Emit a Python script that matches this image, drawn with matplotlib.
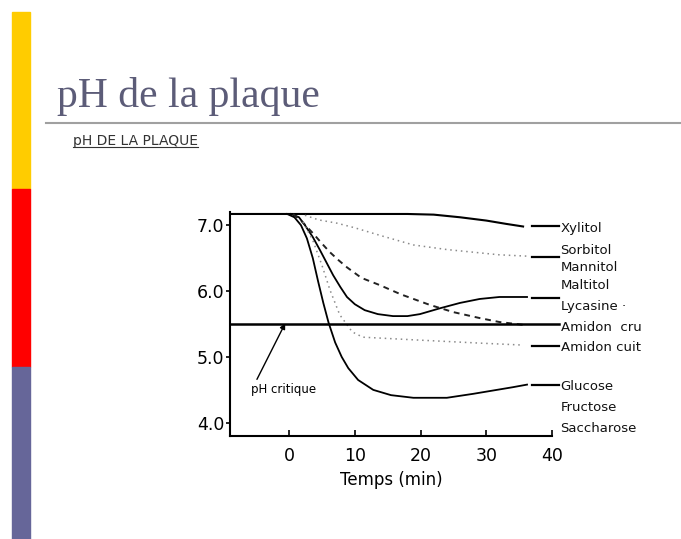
import matplotlib
matplotlib.use("Agg")
import matplotlib.pyplot as plt
from matplotlib.patches import Rectangle
from matplotlib.lines import Line2D

# courbes (temps en min, pH)
xylitol_t = [-9, 0, 10, 18, 22, 26, 30, 33, 35.6]
xylitol_ph = [7.17, 7.17, 7.17, 7.17, 7.16, 7.12, 7.07, 7.02, 6.98]

sorbitol_t = [2.4, 4.5, 7.3, 10, 14, 18.9, 24, 29, 32, 36.2]
sorbitol_ph = [7.15, 7.08, 7.03, 6.96, 6.84, 6.70, 6.63, 6.58, 6.55, 6.53]

lycasine_t = [0.3, 1.5, 2.4, 3.6, 4.7, 5.7, 6.7, 7.8, 8.8, 10, 11.5, 13.5,
              15.8, 18, 19.9, 23, 26, 29, 32, 36.2]
lycasine_ph = [7.17, 7.12, 7.0, 6.82, 6.62, 6.43, 6.24, 6.06, 5.91, 5.8, 5.71,
               5.65, 5.62, 5.62, 5.65, 5.74, 5.82, 5.88, 5.91, 5.91]

cru_t = [0.6, 2, 3.6, 5, 6.2, 7.5, 8.8, 11, 13.8, 17, 21.4, 25, 29, 32, 36.2]
cru_ph = [7.17, 7.05, 6.88, 6.72, 6.59, 6.47, 6.36, 6.2, 6.09, 5.95, 5.79,
          5.68, 5.59, 5.53, 5.48]

cuit_t = [2.1, 3.6, 5.0, 6.2, 7.7, 9.6, 11.2, 18.9, 29.0, 35.6]
cuit_ph = [7.05, 6.77, 6.39, 6.02, 5.64, 5.38, 5.30, 5.26, 5.21, 5.18]

glucose_t = [-0.3, 0.8, 1.8, 2.7, 3.6, 4.4, 5.2, 6.0, 7.0, 8.0, 9.0, 10.5,
             12.8, 15.5, 18.9, 24, 28, 31.6, 34, 36.2]
glucose_ph = [7.17, 7.12, 7.0, 6.8, 6.5, 6.15, 5.82, 5.52, 5.22, 5.0, 4.83,
              4.65, 4.50, 4.42, 4.38, 4.38, 4.44, 4.50, 4.54, 4.58]

ph_critique = 5.5

# étiquettes à droite
labels = ["Xylitol", "Sorbitol", "Mannitol", "Maltitol", "Lycasine \u00b7",
          "Amidon  cru", "Amidon cuit", "Glucose", "Fructose", "Saccharose"]
label_y = [6.95, 6.61, 6.36, 6.09, 5.77, 5.45, 5.15, 4.55, 4.23, 3.92]
stub_y = [6.98, 6.52, 5.89, 5.17, 4.58]

xticks = [0, 10, 20, 30, 40]
yticks = [4.0, 5.0, 6.0, 7.0]

fig = plt.figure(figsize=(6.81, 5.39), dpi=100)

# bandeau de couleur à gauche
W, H = 681, 539
for y0, y1, col in [(12, 189, "#ffcc00"), (189, 367, "#ff0000"), (367, 539, "#666699")]:
    fig.patches.append(Rectangle((12 / W, 1 - y1 / H), 18 / W, (y1 - y0) / H,
                                 transform=fig.transFigure, color=col, zorder=0))

fig.text(57 / W, 1 - 107 / H, "pH de la plaque", family="Liberation Serif",
         fontsize=30, color="#5c5c78", va="baseline")
fig.lines.append(Line2D([46 / W, 1], [1 - 123 / H] * 2, transform=fig.transFigure,
                        color="#a0a0a0", lw=1.5))
sub = fig.text(73 / W, 1 - 145 / H, "pH DE LA PLAQUE", fontsize=10, color="#333333",
               va="baseline")
# soulignement à la longueur du texte
fig.canvas.draw()
bb = sub.get_window_extent()
fig.lines.append(Line2D([bb.x0 / W, bb.x1 / W], [1 - 147 / H] * 2,
                        transform=fig.transFigure, color="#333333", lw=0.8))

ax = fig.add_axes([230 / W, 103 / H, 322 / W, 224 / H])
ax.set_xlim(-9, 40)
ax.set_ylim(3.8, 7.2)

ax.plot(xylitol_t, xylitol_ph, color="black", lw=1.5)
ax.plot(sorbitol_t, sorbitol_ph, color="#8a8a8a", lw=1.1, ls=(0, (1, 2.5)))
ax.plot(lycasine_t, lycasine_ph, color="black", lw=1.3)
ax.plot(cru_t, cru_ph, color="#222222", lw=1.4, ls=(0, (3, 2.5)))
ax.plot(cuit_t, cuit_ph, color="#8a8a8a", lw=1.1, ls=(0, (1, 2.5)))
ax.plot(glucose_t, glucose_ph, color="black", lw=1.3)
ax.plot([-9, 41], [ph_critique, ph_critique], color="black", lw=1.8, clip_on=False)

for y in stub_y:
    ax.plot([37.0, 41.0], [y, y], color="black", lw=1.6, clip_on=False)

for name, y in zip(labels, label_y):
    ax.text(41.3, y, name, fontsize=9.5, va="center", ha="left", color="#111111")

ax.text(-0.8, 4.5, "pH critique", fontsize=8.5, ha="center", va="center")
ax.annotate("", xy=(-0.6, 5.51), xytext=(-4.9, 4.66),
            arrowprops=dict(arrowstyle="-|>", color="black", lw=1.0,
                            shrinkA=0, shrinkB=0, mutation_scale=8))

ax.spines["top"].set_visible(False)
ax.spines["right"].set_visible(False)
ax.spines["left"].set_linewidth(1.5)
ax.spines["bottom"].set_linewidth(1.5)

ax.set_xticks(xticks)
ax.set_xticklabels([str(t) for t in xticks])
ax.set_yticks(yticks)
ax.set_yticklabels(["%.1f" % t for t in yticks])
ax.tick_params(axis="x", direction="in", length=4, width=1.2, labelsize=12.5, pad=8)
ax.tick_params(axis="y", direction="out", length=3, width=1.2, labelsize=12.5, pad=1)
ax.set_xlabel("Temps (min)", fontsize=12, labelpad=4)

fig.savefig("out.png", dpi=100)
